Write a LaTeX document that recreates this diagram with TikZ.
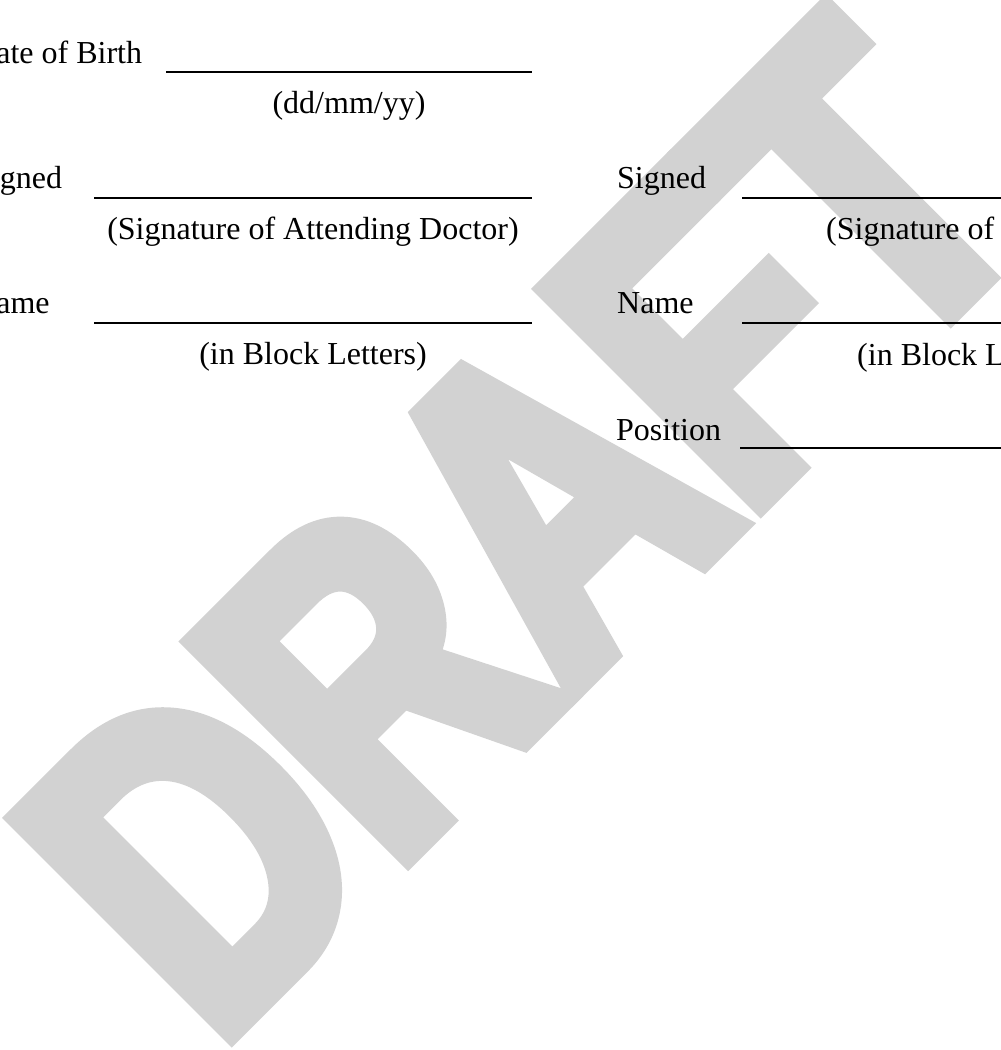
\documentclass[tikz,border=0pt]{standalone}
\usepackage{fontspec}
\setmainfont{Liberation Serif}
\newfontfamily\wmfont{Liberation Sans}[FakeStretch=0.785,FakeBold=5]
\definecolor{wmgray}{RGB}{210,210,210}
\begin{document}
\begin{tikzpicture}[x=1pt,y=-1pt,
  lbl/.style={anchor=base west, inner sep=0pt, font=\fontsize{32}{38}\selectfont},
  capc/.style={anchor=base, inner sep=0pt, font=\fontsize{32}{38}\selectfont},
  capw/.style={anchor=base west, inner sep=0pt, font=\fontsize{32}{38}\selectfont},
  field/.style={line width=2pt, line cap=butt},
  wm/.style={anchor=base west, inner sep=0pt, rotate=45, text=wmgray,
    font=\wmfont\bfseries\fontsize{440}{440}\selectfont}]
\useasboundingbox (0,0) rectangle (1001,1050);
\clip (0,0) rectangle (1001,1050);
% watermark
\node[wm] (draft) at (215.3,1048.4) {DRAFT};
% left column
\node[lbl] (dob) at (-27,63) {Date of Birth};
\coordinate (dobA) at (166,72);
\coordinate (dobB) at (532,72);
\draw[field] (dobA) -- (dobB);
\node[capc] (dobc) at (349,113) {(dd/mm/yy)};

\node[lbl] (sgL) at (-27,188) {Signed};
\coordinate (sgLA) at (94,198);
\coordinate (sgLB) at (532,198);
\draw[field] (sgLA) -- (sgLB);
\node[capc] (sgLc) at (313,239) {(Signature of Attending Doctor)};

\node[lbl] (nmL) at (-27,313) {Name};
\coordinate (nmLA) at (94,323);
\coordinate (nmLB) at (532,323);
\draw[field] (nmLA) -- (nmLB);
\node[capc] (nmLc) at (313,364) {(in Block Letters)};

% right column
\node[lbl] (sgR) at (617,188) {Signed};
\coordinate (sgRA) at (742,198);
\coordinate (sgRB) at (1010,198);
\draw[field] (sgRA) -- (sgRB);
\node[capw] (sgRc) at (826,239) {(Signature of};

\node[lbl] (nmR) at (617,313) {Name};
\coordinate (nmRA) at (742,323);
\coordinate (nmRB) at (1010,323);
\draw[field] (nmRA) -- (nmRB);
\node[capw] (nmRc) at (857,365) {(in Block Letters)};

\node[lbl] (posR) at (616,440) {Position};
\coordinate (posRA) at (740,448);
\coordinate (posRB) at (1010,448);
\draw[field] (posRA) -- (posRB);
\end{tikzpicture}
\end{document}
